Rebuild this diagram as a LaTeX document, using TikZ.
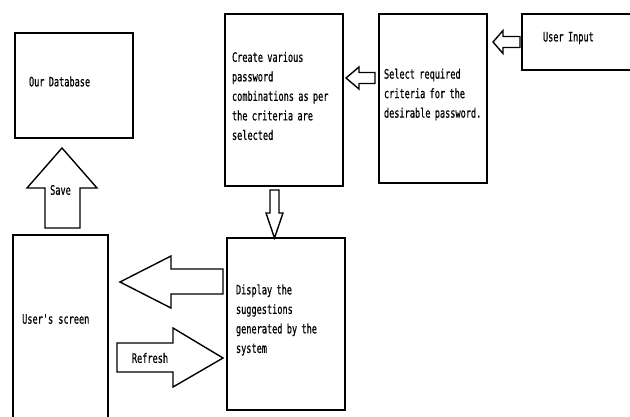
\documentclass[tikz,border=0pt]{standalone}
\usepackage{fontspec}
\usepackage{tikz}
\usetikzlibrary{positioning}

\newfontfamily\boxfont[FakeStretch=0.66, FakeBold=0.5]{DejaVu Sans Mono}

\tikzset{
  box/.style={draw=black, line width=1.8pt, fill=white, inner xsep=7pt, inner ysep=0pt,
              align=left, text=black,
              font=\boxfont\fontsize{13}{19.5}\selectfont,
              execute at begin node={\hyphenpenalty=10000},
              execute at end node={\par\vspace*{8pt}}},
  hollow/.style={draw=black, line width=1.4pt, fill=white, line join=miter},
  tag/.style={font=\boxfont\fontsize{13}{19.5}\selectfont, text=black, inner sep=0pt}
}

\begin{document}
\begin{tikzpicture}[x=1pt, y=-1pt]
  % ============================================================
  % 1 unit = 1 px of the 630 x 416 frame, y runs downwards
  % ============================================================
  \useasboundingbox (0,0) rectangle (630,416);
  \clip (0,0) rectangle (630,416);

  % 1. Boxes
  \node[box, minimum width=118, minimum height=105, text width=90, inner xsep=14pt] (db) at (74,85.5)
    {Our Database};
  \node[box, minimum width=118, minimum height=172, text width=104] (create) at (284,100)
    {Create various\\password\\combinations as per\\the criteria are\\selected};
  \node[box, minimum width=108, minimum height=169, text width=98, inner xsep=5pt] (select) at (433,98.5)
    {Select required\\criteria for the\\desirable password.};
  \node[box, minimum width=118, minimum height=56, text width=76, inner xsep=21pt] (input) at (581,42)
    {User Input};
  \node[box, minimum width=118, minimum height=172, text width=100, inner xsep=9pt] (display) at (286,324)
    {Display the\\suggestions\\generated by the\\system};

  % User's screen runs off the bottom edge
  \node[box, minimum width=95, minimum height=200, anchor=north] (screen) at (60.5,234) {};
  \node[tag, anchor=west] (screentext) at (22,319) {User's screen};

  % 2. Hollow block arrows (tip first)
  % User Input -> Select
  \coordinate (inTip) at (493,42);
  \draw[hollow] (inTip) -- ++(10,-11.5) -- ++(0,6) -- ++(17,0) -- ++(0,11) -- ++(-17,0) -- ++(0,6) -- cycle;

  % Select -> Create
  \coordinate (selTip) at (346,78);
  \draw[hollow] (selTip) -- ++(13,-11) -- ++(0,5.5) -- ++(16,0) -- ++(0,11) -- ++(-16,0) -- ++(0,5.5) -- cycle;

  % Create -> Display
  \coordinate (crTip) at (274.5,238);
  \draw[hollow] (crTip) -- ++(-8.5,-25) -- ++(4,0) -- ++(0,-23) -- ++(9,0) -- ++(0,23) -- ++(4,0) -- cycle;

  % Display -> User's screen
  \coordinate (dispTip) at (120,282);
  \draw[hollow] (dispTip) -- ++(51,-26) -- ++(0,13) -- ++(52,0) -- ++(0,25) -- ++(-52,0) -- ++(0,14) -- cycle;

  % Refresh: User's screen -> Display
  \coordinate (refTip) at (223,358);
  \draw[hollow] (refTip) -- ++(-50,-30) -- ++(0,15) -- ++(-56,0) -- ++(0,29) -- ++(56,0) -- ++(0,15) -- cycle;
  \node[tag] (refresh) at (150,358) {Refresh};

  % Save: User's screen -> Our Database
  \coordinate (saveTip) at (62,148);
  \draw[hollow] (saveTip) -- ++(35,40) -- ++(-17,0) -- ++(0,40) -- ++(-35,0) -- ++(0,-40) -- ++(-18,0) -- cycle;
  \node[tag] (save) at (60.5,190) {Save};
\end{tikzpicture}
\end{document}
